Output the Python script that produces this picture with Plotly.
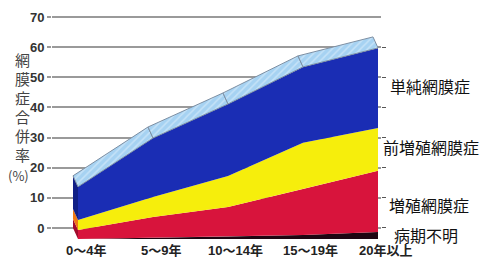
import numpy as np
import plotly.graph_objects as go

# ---------------- data ----------------
categories = ["0～4年", "5～9年", "10～14年", "15～19年", "20年以上"]
unknown_stage = [0.0, 0.5, 0.8, 1.3, 2.3]        # 病期不明
proliferative = [3.0, 6.8, 9.8, 15.3, 20.3]      # 増殖網膜症
preproliferative = [3.3, 6.6, 10.3, 15.3, 14.2]  # 前増殖網膜症
simple_dr = [11.0, 19.6, 23.9, 25.2, 26.6]       # 単純網膜症
series_names = ["病期不明", "増殖網膜症", "前増殖網膜症", "単純網膜症"]
y_ticks = [0, 10, 20, 30, 40, 50, 60, 70]
y_title_chars = ["網", "膜", "症", "合", "併", "率"]
y_title_unit = "(%)"

# ---------------- style ----------------
front_colors = ["#1e0612", "#d8143c", "#f6ee0c", "#1a2db4"]
side_colors = ["#120208", "#a00c2c", "#f07812", "#101f86"]
band_color = "#a6d2f2"
CJK = "Noto Sans CJK JP"
NUM = "Liberation Sans, Noto Sans CJK JP"

# layout geometry
ML, MR, MT, MB = 52, 99, 11, 23
X0 = -26 / 75.0
X1 = 303 / 75.0


def xpaper(v):
    return (v - X0) / (X1 - X0)


# pseudo-3D depth offset (back plane = gridline plane)
DX = 5 / 75.0     # in category units
DZ = 11 / 3.013   # in % units

x = np.arange(len(categories), dtype=float)
layers = [np.array(unknown_stage), np.array(proliferative),
          np.array(preproliferative), np.array(simple_dr)]
cum = np.cumsum(np.vstack(layers), axis=0)

fig = go.Figure()

# front faces
lo = np.zeros(len(x))
for k, hi in enumerate(cum):
    xs = list(x) + list(x[::-1])
    ys = list(lo - DZ) + list((hi - DZ)[::-1])
    fig.add_trace(go.Scatter(x=xs, y=ys, mode="lines", fill="toself",
                             fillcolor=front_colors[k], line=dict(width=0),
                             hoverinfo="skip", showlegend=False))
    # left side face
    fig.add_trace(go.Scatter(x=[0, 0, -DX, -DX, 0],
                             y=[lo[0] - DZ, hi[0] - DZ, hi[0], lo[0], lo[0] - DZ],
                             mode="lines", fill="toself", fillcolor=side_colors[k],
                             line=dict(width=0), hoverinfo="skip", showlegend=False))
    lo = hi

# top band (light blue)
top = cum[-1]
for i in range(len(x) - 1):
    bx = [x[i], x[i + 1], x[i + 1] - DX, x[i] - DX, x[i]]
    by = [top[i] - DZ, top[i + 1] - DZ, top[i + 1], top[i], top[i] - DZ]
    fig.add_trace(go.Scatter(x=bx, y=by, mode="lines", fill="toself",
                             fillcolor=band_color,
                             fillpattern=dict(shape="/", bgcolor=band_color,
                                              fgcolor="#e4f2fc", size=5, solidity=0.3),
                             line=dict(width=1, color="#7d8fa3"),
                             hoverinfo="skip", showlegend=False))

# dummy trace for right-hand tick axis
fig.add_trace(go.Scatter(x=[0], y=[0], yaxis="y2", mode="markers",
                         marker=dict(opacity=0), hoverinfo="skip", showlegend=False))

annotations = []
# category labels under the block
for i, cat in enumerate(categories):
    annotations.append(dict(x=xpaper(i + 0.1), y=0, xref="paper", yref="paper",
                            yshift=-10, text=cat, showarrow=False,
                            xanchor="center", yanchor="middle",
                            font=dict(family=NUM, size=13, color="#222", weight=700)))
# right-side series labels
label_pos = {"単純網膜症": (4.13, 47.2), "前増殖網膜症": (4.04, 26.8),
             "増殖網膜症": (4.12, 7.6), "病期不明": (4.18, -2.3)}
for name in series_names:
    lx, ly = label_pos[name]
    annotations.append(dict(x=xpaper(lx), y=ly, xref="paper", yref="y", text=name,
                            showarrow=False, xanchor="left", yanchor="middle",
                            font=dict(family=CJK, size=16, color="#111")))
# vertical y title, one character per line
for j, ch in enumerate(y_title_chars):
    annotations.append(dict(x=xpaper(-0.745), y=56.0 - 6.3 * j, xref="paper", yref="y",
                            text=ch, showarrow=False, xanchor="center", yanchor="middle",
                            font=dict(family=CJK, size=15, color="#444")))
annotations.append(dict(x=xpaper(-0.8), y=17.4, xref="paper", yref="y",
                        text=y_title_unit, showarrow=False,
                        xanchor="center", yanchor="middle",
                        font=dict(family=CJK, size=13, color="#444")))

fig.update_layout(
    width=480, height=263,
    margin=dict(l=ML, r=MR, t=MT, b=MB),
    paper_bgcolor="white", plot_bgcolor="white",
    xaxis=dict(range=[X0, X1], showticklabels=False,
               showgrid=False, zeroline=False, showline=False, ticks=""),
    yaxis=dict(range=[-4, 72], tickmode="array", tickvals=y_ticks,
               showgrid=True, gridcolor="#9a9a9a", gridwidth=1.5,
               zeroline=False, showline=False, ticks="outside", ticklen=4,
               tickcolor="#9a9a9a", tickwidth=1.5,
               tickfont=dict(family=NUM, size=13, color="#333", weight=700)),
    yaxis2=dict(range=[-4, 72], overlaying="y", side="right", tickmode="array",
                tickvals=y_ticks[:-1], showticklabels=False, showgrid=False,
                zeroline=False, showline=False, ticks="outside", ticklen=4,
                tickcolor="#555", tickwidth=1.2),
    annotations=annotations,
    showlegend=False,
)

fig.write_html("out.html")
